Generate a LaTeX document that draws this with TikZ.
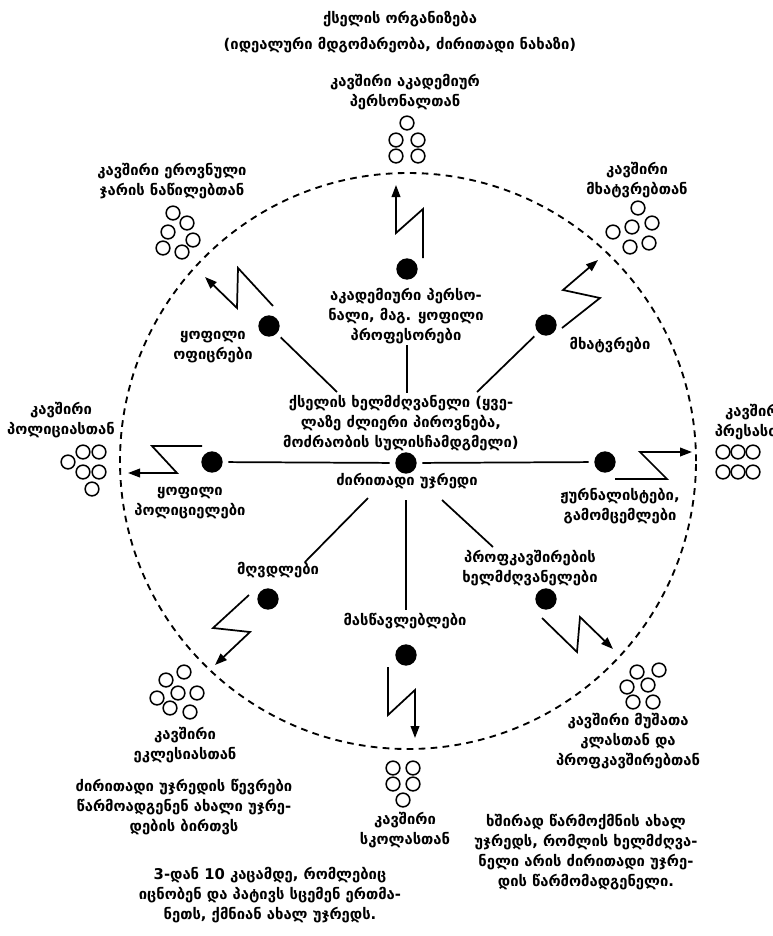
\documentclass[tikz,border=0pt]{standalone}
\usepackage{fontspec}
\setmainfont{DejaVu Sans}
\usetikzlibrary{arrows.meta}
\newcommand{\lblfont}{\fontsize{11.1}{15}\selectfont\bfseries}
\begin{document}
\begin{tikzpicture}[x=0.75pt,y=-0.75pt,
  dot/.style={circle, fill=black, inner sep=0pt, minimum size=16pt},
  ring/.style={circle, draw, line width=1.15pt, inner sep=0pt, minimum size=10.3pt},
  lbl/.style={align=center, font=\lblfont, inner sep=0pt},
  conn/.style={line width=1.3pt},
  bolt/.style={line width=1.3pt, line join=miter, -{Triangle[length=9pt,width=6.5pt]}},
  border/.style={dashed, line width=1.4pt, dash pattern=on 5pt off 4pt}]
\useasboundingbox (0,0) rectangle (773,936);
\fill[white] (0,0) rectangle (773,936);
\clip (0,0) rectangle (773,936);

% dashed boundary
\coordinate (mid) at (408,461);
\draw[border] (mid) circle[radius=216pt];

% titles
\node[lbl] (title) at (400,19) {ქსელის ორგანიზება};
\node[lbl] (subtitle) at (400,45) {(იდეალური მდგომარეობა, ძირითადი ნახაზი)};

% dots
\node[dot] (cdot) at (406,463) {};
\node[dot] (pdot) at (212,462) {};
\node[dot] (jdot) at (605,462) {};
\node[dot] (adot) at (407,269) {};
\node[dot] (odot) at (269,326) {};
\node[dot] (mdot) at (546,325) {};
\node[dot] (rdot) at (268,599) {};
\node[dot] (tdot) at (406,655) {};
\node[dot] (udot) at (546,599) {};

% inner labels
\node[lbl] (acadin) at (406,316) {აკადემიური პერსო-\\ნალი, მაგ. ყოფილი\\პროფესორები};
\node[lbl] (offin) at (213,347) {ყოფილი\\ოფიცრები};
\node[lbl] (artin) at (610,345) {მხატვრები};
\node[lbl] (leader) at (401,423) {ქსელის ხელმძღვანელი (ყვე-\\ლაზე ძლიერი პიროვნება,\\მოძრაობის სულისჩამდგმელი)};
\node[lbl] (core) at (407,481) {ძირითადი უჯრედი};
\node[lbl] (polin) at (190,503) {ყოფილი\\პოლიციელები};
\node[lbl] (jourin) at (620,506) {ჟურნალისტები,\\გამომცემლები};
\node[lbl] (priestin) at (278,570) {მღვდლები};
\node[lbl] (teachin) at (405,621) {მასწავლებლები};
\node[lbl] (unionin) at (530,568) {პროფკავშირების\\ხელმძღვანელები};

% outer labels
\node[lbl] (acadout) at (405,92) {კავშირი აკადემიურ\\პერსონალთან};
\node[lbl] (armyout) at (172,181) {კავშირი ეროვნული\\ჯარის ნაწილებთან};
\node[lbl] (artout) at (637,180) {კავშირი\\მხატვრებთან};
\node[lbl] (polout) at (61,420) {კავშირი\\პოლიციასთან};
\node[lbl] (pressout) at (756,422) {კავშირი\\პრესასთან};
\node[lbl] (churchout) at (185,745) {კავშირი\\ეკლესიასთან};
\node[lbl] (schoolout) at (405,830) {კავშირი\\სკოლასთან};
\node[lbl] (workout) at (628,741) {კავშირი მუშათა\\კლასთან და\\პროფკავშირებთან};
\node[lbl] (nucleus) at (184,807) {ძირითადი უჯრედის წევრები\\წარმოადგენენ ახალი უჯრე-\\დების ბირთვს};
\node[lbl] (size) at (270,895) {3-დან 10 კაცამდე, რომლებიც\\იცნობენ და პატივს სცემენ ერთმა-\\ნეთს, ქმნიან ახალ უჯრედს.};
\node[lbl] (often) at (586,852) {ხშირად წარმოქმნის ახალ\\უჯრედს, რომლის ხელმძღვა-\\ნელი არის ძირითადი უჯრე-\\დის წარმომადგენელი.};

% connectors from centre
\coordinate (topA) at (407,345);
\coordinate (topB) at (407,393);
\coordinate (ulB) at (337,392);
\coordinate (urB) at (477,392);
\coordinate (llA) at (368,498);
\coordinate (llB) at (305,562);
\coordinate (botA) at (406,500);
\coordinate (botB) at (406,610);
\coordinate (lrA) at (442,500);
\coordinate (lrB) at (493,547);
\draw[conn, shorten <=4pt, shorten >=4pt] (cdot) -- (pdot);
\draw[conn, shorten <=4pt, shorten >=4pt] (cdot) -- (jdot);
\draw[conn] (topA) -- (topB);
\draw[conn, shorten <=4pt] (odot) -- (ulB);
\draw[conn, shorten <=4pt] (mdot) -- (urB);
\draw[conn] (llA) -- (llB);
\draw[conn] (botA) -- (botB);
\draw[conn] (lrA) -- (lrB);

% lightning arrows
\draw[bolt] (423,258) -- (423,209) -- (396,233) -- (396,185);
\draw[bolt] (273,306) -- (238,268) -- (237,308) -- (205,277);
\draw[bolt] (562,328) -- (600,298) -- (563,290) -- (598,260);
\draw[bolt] (202,446) -- (152,446) -- (177,473) -- (128,473);
\draw[bolt] (615,479) -- (667,479) -- (640,452) -- (692,452);
\draw[bolt] (249,595) -- (213,628) -- (250,632) -- (215,665);
\draw[bolt] (388,667) -- (388,715) -- (415,690) -- (415,738);
\draw[bolt] (542,618) -- (577,652) -- (580,617) -- (613,649);

% groups of people
\foreach \p [count=\i] in {(407,123),(396,140),(418,140),(396,156),(418,156)}
  \node[ring] (ga\i) at \p {};
\foreach \p [count=\i] in {(173,213),(187,223),(168,232),(193,240),(163,248),(182,252)}
  \node[ring] (gr\i) at \p {};
\foreach \p [count=\i] in {(638,208),(613,232),(632,227),(652,223),(630,247),(649,243)}
  \node[ring] (gm\i) at \p {};
\foreach \p [count=\i] in {(83,452),(99,452),(68,462),(83,472),(99,472),(92,489)}
  \node[ring] (gp\i) at \p {};
\foreach \p [count=\i] in {(723,452),(738,452),(753,452),(723,472),(738,472),(753,472)}
  \node[ring] (gj\i) at \p {};
\foreach \p [count=\i] in {(184,672),(166,680),(197,693),(178,693),(157,698),(170,708),(190,712)}
  \node[ring] (gc\i) at \p {};
\foreach \p [count=\i] in {(393,768),(413,768),(393,784),(413,784),(403,800)}
  \node[ring] (gs\i) at \p {};
\foreach \p [count=\i] in {(637,672),(659,670),(627,687),(648,685),(633,702),(653,702)}
  \node[ring] (gw\i) at \p {};
\end{tikzpicture}
\end{document}
